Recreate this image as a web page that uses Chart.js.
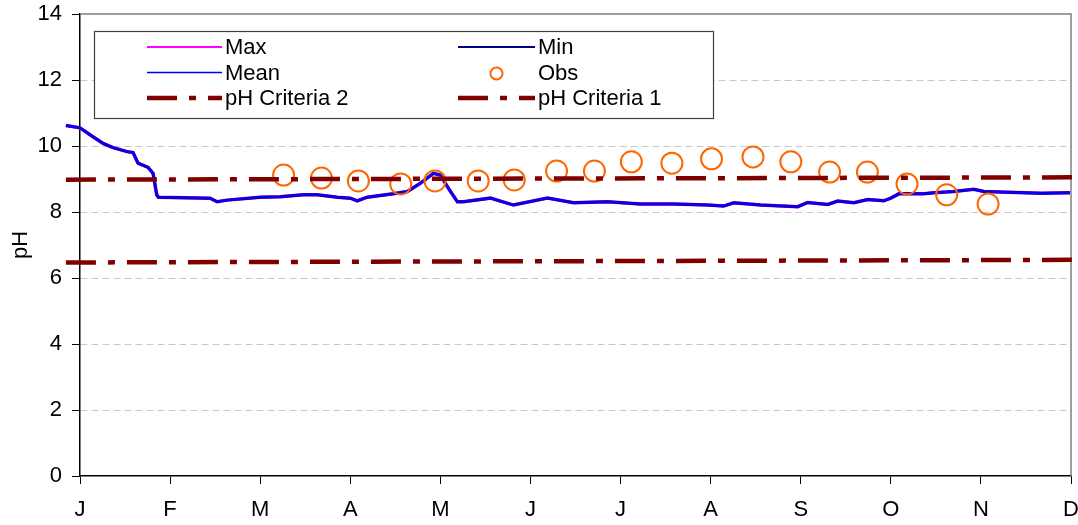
<!DOCTYPE html>
<html>
<head>
<meta charset="utf-8">
<script src="https://cdn.jsdelivr.net/npm/chart.js@4/dist/chart.umd.min.js"></script>
<style>
    html, body { margin: 0; padding: 0; background: #fff; }
    #wrap { width: 1078px; height: 525px; }
</style>
</head>
<body>
<div id="wrap"><canvas id="chart"></canvas></div>
<script>
// x values are in months from 1 Jan (0 = J, 11 = D)
const monthLabels = ['J', 'F', 'M', 'A', 'M', 'J', 'J', 'A', 'S', 'O', 'N', 'D']

const tracePos = [
    -0.156, 0, 0.144, 0.256, 0.367, 0.522, 0.589, 0.644, 0.756, 0.811,
    0.852, 0.87, 1.444, 1.522, 1.633, 2.0, 2.222, 2.478, 2.633, 2.856,
    3.0, 3.078, 3.189, 3.478, 3.633, 3.778, 3.922, 4.0, 4.089, 4.189,
    4.256, 4.556, 4.811, 5.189, 5.478, 5.856, 6.222, 6.589, 6.967, 7.144,
    7.256, 7.556, 7.967, 8.078, 8.3, 8.411, 8.589, 8.744, 8.922, 9.0,
    9.089, 9.367, 9.478, 9.7, 9.922, 10.033, 10.667, 10.989,
]
const meanPH = [
    10.62, 10.55, 10.28, 10.08, 9.95, 9.83, 9.80, 9.48, 9.35, 9.17,
    8.52, 8.45, 8.42, 8.31, 8.36, 8.45, 8.46, 8.52, 8.52, 8.45,
    8.42, 8.34, 8.45, 8.55, 8.62, 8.87, 9.17, 9.12, 8.72, 8.31,
    8.31, 8.42, 8.21, 8.42, 8.28, 8.31, 8.24, 8.24, 8.21, 8.18,
    8.28, 8.21, 8.16, 8.29, 8.23, 8.33, 8.28, 8.38, 8.34, 8.42,
    8.55, 8.55, 8.58, 8.62, 8.69, 8.62, 8.57, 8.58,
]
// Max and Min sit right on top of the Mean trace in the picture
const maxPH = meanPH.slice()
const minPH = meanPH.slice()

const obsPos = [2.26, 2.68, 3.09, 3.56, 3.94, 4.42, 4.82, 5.29, 5.71, 6.12,
    6.57, 7.01, 7.47, 7.89, 8.32, 8.74, 9.18, 9.62, 10.08]
const obsPH = [9.12, 9.03, 8.94, 8.85, 8.94, 8.94, 8.97, 9.24, 9.24, 9.52,
    9.48, 9.61, 9.67, 9.52, 9.21, 9.21, 8.85, 8.52, 8.24]

const criteriaPos = [-0.156, 11.06]
const criteria2 = [8.98, 9.05]
const criteria1 = [6.47, 6.55]

const toXY = (xs, ys) => ys.map((y, i) => ({x: xs[i], y}))

const critDash = [30, 12, 7, 12]

// Excel style boxed legend, two columns, three rows
const boxLegend = {
    id: 'boxLegend',
    afterDraw(chart) {
        const ctx = chart.ctx
        ctx.save()
        ctx.fillStyle = '#fff'
        ctx.fillRect(94.5, 31.5, 619, 87)
        ctx.strokeStyle = '#404040'
        ctx.lineWidth = 1.2
        ctx.strokeRect(94.5, 31.5, 619, 87)

        ctx.font = '22px "Liberation Sans", Arial, sans-serif'
        ctx.textBaseline = 'middle'
        ctx.fillStyle = '#000'
        chart.data.datasets.forEach((ds, i) => {
            let col = i % 2
            let row = Math.floor(i / 2)
            let x0 = col ? 458 : 147
            let x1 = col ? 535 : 222
            let y = 47 + row * 25.5
            if (ds.showLine) {
                ctx.save()
                ctx.strokeStyle = ds.borderColor
                ctx.lineWidth = ds.legendWidth
                ctx.setLineDash(ds.borderDash || [])
                ctx.beginPath()
                ctx.moveTo(x0, y)
                ctx.lineTo(x1, y)
                ctx.stroke()
                ctx.restore()
            } else {
                ctx.save()
                ctx.strokeStyle = ds.pointBorderColor
                ctx.lineWidth = 2
                ctx.beginPath()
                ctx.arc((x0 + x1) / 2, y + 1, 6, 0, Math.PI * 2)
                ctx.stroke()
                ctx.restore()
            }
            ctx.fillText(ds.label, x1 + 3, y + 1)
        })
        ctx.restore()
    },
}

// grey top and right edges of the plot area
const plotFrame = {
    id: 'plotFrame',
    beforeDatasetsDraw(chart) {
        const {ctx, chartArea: a} = chart
        ctx.save()
        ctx.strokeStyle = '#808080'
        ctx.lineWidth = 1.5
        ctx.beginPath()
        ctx.moveTo(a.left, a.top)
        ctx.lineTo(a.right, a.top)
        ctx.lineTo(a.right, a.bottom)
        ctx.stroke()
        ctx.restore()
    },
}

Chart.defaults.font.family = '"Liberation Sans", Arial, sans-serif'
Chart.defaults.color = '#000'

new Chart(document.getElementById('chart'), {
    type: 'scatter',
    data: {
        datasets: [
            {
                label: 'Max',
                data: toXY(tracePos, maxPH),
                showLine: true,
                borderColor: '#ff00ff',
                borderWidth: 3.5,
                legendWidth: 2,
                pointRadius: 0,
                clip: false,
                order: 6,
            },
            {
                label: 'Min',
                data: toXY(tracePos, minPH),
                showLine: true,
                borderColor: '#000080',
                borderWidth: 3,
                legendWidth: 2,
                pointRadius: 0,
                clip: false,
                order: 5,
            },
            {
                label: 'Mean',
                data: toXY(tracePos, meanPH),
                showLine: true,
                borderColor: '#0000ff',
                borderWidth: 2,
                legendWidth: 1.3,
                pointRadius: 0,
                clip: false,
                order: 4,
            },
            {
                label: 'Obs',
                data: toXY(obsPos, obsPH),
                showLine: false,
                pointRadius: 10.5,
                pointBorderWidth: 2,
                pointBorderColor: '#ff6600',
                pointBackgroundColor: 'rgba(0,0,0,0)',
                order: 3,
            },
            {
                label: 'pH Criteria 2',
                data: toXY(criteriaPos, criteria2),
                showLine: true,
                borderColor: '#800000',
                borderWidth: 4.5,
                legendWidth: 4.5,
                borderDash: critDash,
                pointRadius: 0,
                clip: false,
                order: 2,
            },
            {
                label: 'pH Criteria 1',
                data: toXY(criteriaPos, criteria1),
                showLine: true,
                borderColor: '#800000',
                borderWidth: 4.5,
                legendWidth: 4.5,
                borderDash: critDash,
                pointRadius: 0,
                clip: false,
                order: 1,
            },
        ],
    },
    options: {
        responsive: true,
        maintainAspectRatio: false,
        animation: false,
        layout: {autoPadding: false, padding: {top: 14, right: 7, left: 0, bottom: 0}},
        plugins: {
            legend: {display: false},
            tooltip: {enabled: false},
        },
        scales: {
            x: {
                type: 'linear',
                min: 0,
                max: 11,
                afterFit(scale) {
                    scale.height = 49
                    scale.paddingLeft = 0
                    scale.paddingRight = 0
                },
                ticks: {
                    stepSize: 1,
                    autoSkip: false,
                    maxRotation: 0,
                    padding: 13,
                    font: {size: 22},
                    callback: (v) => monthLabels[v],
                },
                grid: {
                    drawOnChartArea: false,
                    tickLength: 8,
                    tickColor: '#000',
                },
                border: {color: '#000', width: 1.5},
            },
            y: {
                min: 0,
                max: 14,
                afterFit(scale) {
                    scale.width = 80
                    scale.paddingTop = 0
                    scale.paddingBottom = 0
                },
                ticks: {
                    stepSize: 2,
                    padding: 10,
                    font: {size: 22},
                },
                title: {
                    display: true,
                    text: 'pH',
                    font: {size: 22},
                    padding: {top: 8, bottom: 0},
                },
                grid: {
                    color: (c) => (c.tick && (c.tick.value === 0 || c.tick.value === 14)) ? 'rgba(0,0,0,0)' : '#c8c8c8',
                    tickLength: 8,
                    tickColor: '#000',
                    tickBorderDash: [],
                },
                border: {color: '#000', width: 1.5, dash: [7, 4]},
            },
        },
    },
    plugins: [plotFrame, boxLegend],
})
</script>
</body>
</html>
